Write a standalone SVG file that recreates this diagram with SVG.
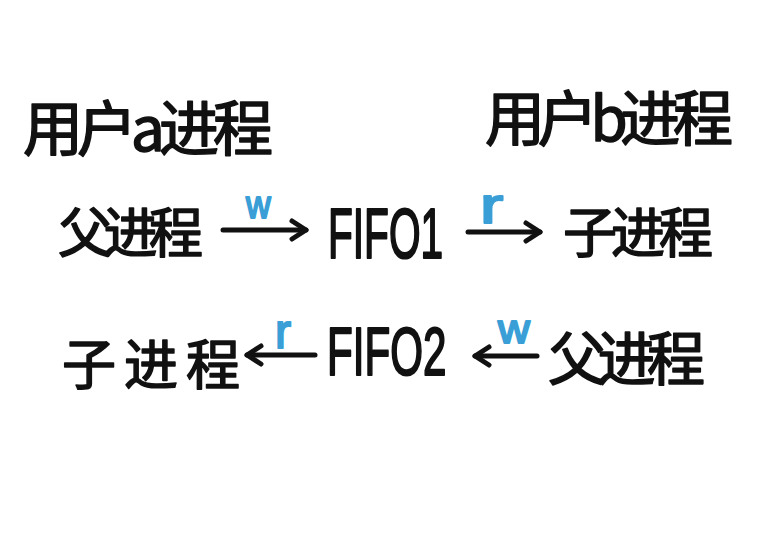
<svg xmlns="http://www.w3.org/2000/svg" width="757" height="541" viewBox="0 0 757 541">
  <style>
    .cjk { font-family: "Noto Sans CJK SC", "Noto Sans", sans-serif; font-weight: normal; fill: #111; stroke: #111; stroke-width: 1.6; stroke-linejoin: round; }
    .lat { font-family: "Liberation Sans", "DejaVu Sans", sans-serif; fill: #111; stroke: #111; stroke-width: 2.2; stroke-linejoin: round; }
    .lbl { font-family: "Liberation Sans", "DejaVu Sans", sans-serif; fill: #3a9fd6; stroke: #3a9fd6; stroke-width: 2; stroke-linejoin: round; }
    .arr { stroke: #111; stroke-width: 5; stroke-linecap: round; fill: none; }
  </style>
  <defs>
    <marker id="head" viewBox="-18 -12 22 24" markerUnits="userSpaceOnUse" markerWidth="22" markerHeight="24" refX="0" refY="0" orient="auto">
      <path d="M -14 -9 L 0 0 L -14 9" fill="none" stroke="#111" stroke-width="5" stroke-linecap="round" stroke-linejoin="round"/>
    </marker>
  </defs>
  <rect width="757" height="541" fill="#ffffff"/>

  <g id="user-a">
    <text class="cjk" x="23" y="151" font-size="60" textLength="250">用户a进程</text>
  </g>
  <g id="user-b">
    <text class="cjk" x="485" y="141" font-size="60" textLength="248">用户b进程</text>
  </g>

  <g id="parent-a">
    <text class="cjk" x="58" y="253" font-size="54" textLength="145">父进程</text>
  </g>
  <g id="fifo1">
    <text class="lat" transform="translate(328,258) scale(0.58,1)" x="0" y="0" font-size="70">FIFO1</text>
  </g>
  <g id="child-b">
    <text class="cjk" x="563" y="253" font-size="54" textLength="150">子进程</text>
  </g>

  <g id="child-a">
    <text class="cjk" x="62" y="385" font-size="54" textLength="178">子进程</text>
  </g>
  <g id="fifo2">
    <text class="lat" transform="translate(327,375) scale(0.62,1)" x="0" y="0" font-size="68">FIFO2</text>
  </g>
  <g id="parent-b">
    <text class="cjk" x="548" y="380" font-size="58" textLength="157">父进程</text>
  </g>

  <g id="connectors">
    <path class="arr" d="M 223 230 L 306 230" marker-end="url(#head)"/>
    <text class="lbl" transform="translate(246,218) scale(0.9,1)" font-size="38">w</text>

    <path class="arr" d="M 468 232 L 540 232" marker-end="url(#head)"/>
    <text class="lbl" transform="translate(480,223) scale(1.4,1)" font-size="50">r</text>

    <path class="arr" d="M 315 355 L 247 355" marker-end="url(#head)"/>
    <text class="lbl" transform="translate(275,348) scale(1.0,1)" font-size="48">r</text>

    <path class="arr" d="M 537 356 L 475 356" marker-end="url(#head)"/>
    <text class="lbl" transform="translate(498,343) scale(1.1,1)" font-size="40">w</text>
  </g>
</svg>
